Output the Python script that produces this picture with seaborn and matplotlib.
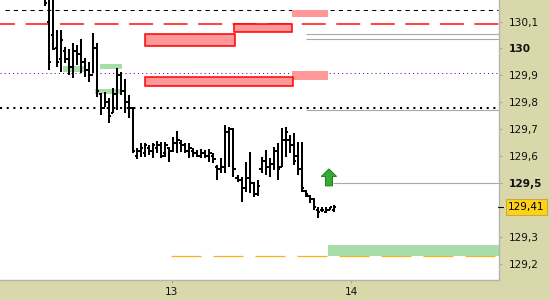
import numpy as np
import pandas as pd
import matplotlib
matplotlib.use("Agg")
import matplotlib.pyplot as plt
import seaborn as sns
from matplotlib.patches import Rectangle, FancyArrow
from matplotlib.transforms import blended_transform_factory

# ---------------- data ----------------
opens = [130.20, 130.10, 130.05, 130.00, 129.96, 129.99, 129.96, 129.93, 129.99, 129.98,
         129.95, 129.92, 129.90, 130.00, 129.83, 129.78, 129.80, 129.76, 129.83, 129.90,
         129.84, 129.80, 129.78, 129.60, 129.62, 129.61, 129.63, 129.62, 129.63, 129.64,
         129.61, 129.63, 129.62, 129.65, 129.65, 129.64, 129.62, 129.62, 129.61, 129.60,
         129.61, 129.60, 129.60, 129.56, 129.55, 129.56, 129.69, 129.70, 129.52, 129.51,
         129.48, 129.52, 129.50, 129.46, 129.55, 129.58, 129.56, 129.57, 129.62, 129.56,
         129.66, 129.66, 129.64, 129.60, 129.55, 129.47, 129.45, 129.44, 129.40, 129.40,
         129.39, 129.40, 129.40]
highs = [130.26, 130.25, 130.22, 130.068, 130.068, 130.005, 129.998, 130.020, 130.013, 130.035,
         129.964, 129.950, 130.057, 130.020, 129.834, 129.838, 129.816, 129.853, 129.927, 129.912,
         129.886, 129.827, 129.782, 129.630, 129.648, 129.648, 129.641, 129.648, 129.656, 129.652,
         129.652, 129.634, 129.671, 129.693, 129.660, 129.648, 129.648, 129.630, 129.622, 129.626,
         129.622, 129.626, 129.611, 129.567, 129.593, 129.715, 129.708, 129.704, 129.529, 129.522,
         129.578, 129.615, 129.503, 129.511, 129.596, 129.622, 129.593, 129.634, 129.648, 129.704,
         129.708, 129.678, 129.686, 129.652, 129.652, 129.474, 129.455, 129.444, 129.410, 129.410,
         129.410, 129.410, 129.418]
lows = [130.158, 129.920, 129.994, 129.931, 129.912, 129.946, 129.901, 129.890, 129.938, 129.909,
        129.894, 129.875, 129.909, 129.819, 129.752, 129.782, 129.723, 129.760, 129.771, 129.827,
        129.760, 129.741, 129.611, 129.589, 129.596, 129.596, 129.604, 129.593, 129.611, 129.593,
        129.596, 129.578, 129.615, 129.611, 129.615, 129.611, 129.593, 129.596, 129.596, 129.593,
        129.593, 129.578, 129.574, 129.511, 129.537, 129.537, 129.559, 129.522, 129.503, 129.429,
        129.466, 129.463, 129.448, 129.451, 129.537, 129.529, 129.522, 129.548, 129.511, 129.559,
        129.596, 129.611, 129.567, 129.529, 129.466, 129.448, 129.425, 129.399, 129.370, 129.392,
        129.388, 129.399, 129.392]
closes = [130.17, 129.95, 129.998, 129.95, 130.03, 129.96, 129.93, 129.99, 129.98, 129.95,
          129.92, 129.90, 130.00, 129.84, 129.78, 129.80, 129.75, 129.83, 129.90, 129.84,
          129.80, 129.78, 129.62, 129.62, 129.63, 129.64, 129.62, 129.64, 129.64, 129.60,
          129.64, 129.62, 129.65, 129.66, 129.64, 129.62, 129.63, 129.61, 129.60, 129.61,
          129.60, 129.61, 129.59, 129.55, 129.56, 129.69, 129.70, 129.55, 129.51, 129.48,
          129.52, 129.50, 129.46, 129.49, 129.58, 129.56, 129.57, 129.62, 129.55, 129.66,
          129.69, 129.64, 129.58, 129.55, 129.48, 129.46, 129.44, 129.41, 129.39, 129.40,
          129.40, 129.41, 129.41]

day_labels = ["13", "14"]
day_bar_pos = [31.67, 76.3]
price_ticks = [130.1, 130.0, 129.9, 129.8, 129.7, 129.6, 129.5, 129.3, 129.2]
bold_ticks = [130.0, 129.5]
last_price = 129.41

# zones: (bar start, bar end, price low, price high)
red_zones = [(24.94, 47.38, 130.009, 130.054),
             (47.13, 61.60, 130.061, 130.091),
             (24.94, 61.85, 129.860, 129.894)]
pink_zones = [(61.6, 70.57, 130.118, 130.143),
              (61.6, 70.57, 129.883, 129.916)]
green_zones = [(4.49, 9.98, 129.912, 129.935),
               (13.7, 19.2, 129.923, 129.942),
               (12.5, 19.2, 129.831, 129.849),
               (70.57, 113.2, 129.228, 129.269)]

black_dashed_level = 130.141
red_dashed_level = 130.091
purple_dotted_level = 129.909
black_dotted_level = 129.780
gray_levels = [130.052, 130.034, 129.771]
gray_start = 65.1
target_level = 129.5
target_start = 71.8
orange_level = 129.228
orange_start = 31.4
signal_bar = 70.8
signal_base = 129.489
signal_tip = 129.552

df = pd.DataFrame({"open": opens, "high": highs, "low": lows, "close": closes})
df["bar"] = np.arange(len(df))

# ---------------- style ----------------
sns.set_theme(style="white")
plt.rcParams["font.family"] = ["DejaVu Sans"]
TAN = "#D9D8AB"
XMIN, XMAX = -11.22, 113.2
YMIN, YMAX = 129.139, 130.18

fig = plt.figure(figsize=(5.5, 3), dpi=100, facecolor=TAN)
ax = fig.add_axes([0, 20 / 300, 499 / 550, 280 / 300])
ax.set_facecolor("white")
ax.set_xlim(XMIN, XMAX)
ax.set_ylim(YMIN, YMAX)

# horizontal levels
ax.hlines(black_dashed_level, -10, 113, color="black", lw=0.75,
          linestyles=[(0, (4, 4))], zorder=1)
ax.hlines(red_dashed_level, XMIN, XMAX, color="#FF1010", lw=1.1,
          linestyles=[(5.9, (15.7, 6.9))], zorder=1)
ax.hlines(purple_dotted_level, XMIN, XMAX, color="#7F00A0", lw=0.75,
          linestyles=[(0, (1, 3))], zorder=1)
ax.hlines(black_dotted_level, XMIN, 112.6, color="black", lw=1.5,
          linestyles=[(0, (1, 2.2))], zorder=1)
ax.hlines(gray_levels, gray_start, XMAX, color="#A8A8A8", lw=0.8, zorder=1)
ax.hlines(target_level, target_start, XMAX, color="#A8A8A8", lw=0.8, zorder=1)
ax.hlines(orange_level, orange_start, XMAX, color="#F5B41E", lw=0.9,
          linestyles=[(0, (24, 9.6))], zorder=1)

# zones
for x0, x1, y0, y1 in green_zones:
    ax.add_patch(Rectangle((x0, y0), x1 - x0, y1 - y0, fc="#A8DCA8", ec="none", zorder=2))
for x0, x1, y0, y1 in pink_zones:
    ax.add_patch(Rectangle((x0, y0), x1 - x0, y1 - y0, fc="#FF9999", ec="none", zorder=3))
for x0, x1, y0, y1 in red_zones:
    ax.add_patch(Rectangle((x0, y0), x1 - x0, y1 - y0, fc="#FF9999", ec="#FF0000",
                           lw=1.1, zorder=3))

# OHLC bars
ax.vlines(df["bar"], df["low"], df["high"], color="black", lw=1.44, zorder=5,
          antialiased=False)
ax.hlines(df["open"], df["bar"] - 0.55, df["bar"], color="black", lw=1.3, zorder=5,
          antialiased=False)
ax.hlines(df["close"], df["bar"], df["bar"] + 0.55, color="black", lw=1.3, zorder=5,
          antialiased=False)

# signal arrow
ax.add_patch(FancyArrow(signal_bar, signal_base, 0, signal_tip - signal_base,
                        width=1.75, head_width=3.8, head_length=0.028,
                        length_includes_head=True, fc="#35AA35", ec="#1F7A1F",
                        lw=0.7, zorder=6))

# spines
for s in ["top", "left"]:
    ax.spines[s].set_visible(False)
for s in ["right", "bottom"]:
    ax.spines[s].set_visible(True)
    ax.spines[s].set_color("#B4B4B4")
    ax.spines[s].set_linewidth(1.0)

# y axis on right
ax.yaxis.tick_right()
ax.set_yticks(price_ticks)
labels = [(f"{t:.1f}".rstrip("0").rstrip(".")).replace(".", ",") for t in price_ticks]
ax.set_yticklabels(labels)
for lbl, t in zip(ax.get_yticklabels(), price_ticks):
    lbl.set_fontsize(7.6)
    lbl.set_color("#111111")
    if t in bold_ticks:
        lbl.set_fontweight("bold")
ax.tick_params(axis="y", which="both", right=True, left=False, length=2.2, width=0.8,
               color="#A8A8A8", pad=5, direction="out")

# x axis
ax.set_xticks(day_bar_pos)
ax.set_xticklabels(day_labels, fontsize=7.6, color="#111111")
ax.tick_params(axis="x", bottom=True, length=2.2, width=0.8, color="#A8A8A8",
               pad=2.5, direction="out")
ax.grid(False)

# last price label
blend = blended_transform_factory(ax.transAxes, ax.transData)
ax.plot([0.997, 1.008], [last_price, last_price], transform=blend, color="black",
        lw=0.8, clip_on=False, zorder=7)
ax.annotate(f"{last_price:.2f}".replace(".", ","), xy=(1, last_price), xycoords=blend,
            xytext=(6.6, 0), textcoords="offset points", ha="left", va="center",
            fontsize=7.6, color="black", annotation_clip=False,
            bbox=dict(boxstyle="square,pad=0.25", fc="#FFD21A", ec="#C9A840", lw=0.8))

fig.savefig("out.png", dpi=100, facecolor=TAN)
